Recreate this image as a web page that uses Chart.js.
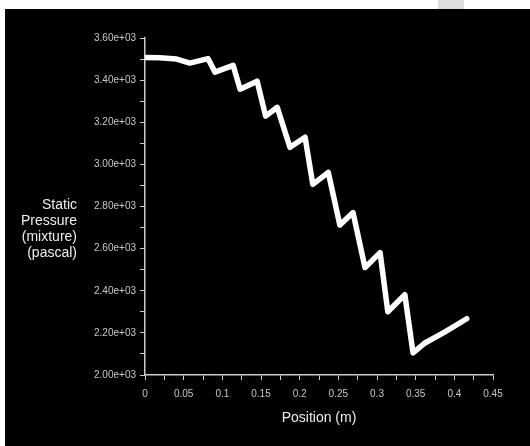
<!DOCTYPE html>
<html>
<head>
<meta charset="utf-8">
<script src="https://cdn.jsdelivr.net/npm/chart.js@4/dist/chart.umd.min.js"></script>
<style>
  html, body { margin: 0; padding: 0; background: #fff; }
  body { width: 530px; height: 446px; position: relative; overflow: hidden; }
  #frame { position: absolute; left: 5px; top: 9px; width: 525px; height: 437px; background: #000; }
  #tab { position: absolute; left: 438px; top: 0; width: 26px; height: 9px; background: #ddd; }
</style>
</head>
<body>
<div id="tab"></div>
<div id="frame"><canvas id="myChart" width="525" height="437"></canvas></div>
<script>
// 數據 (position in m, static pressure in pascal)
const positions = [0, 0.019, 0.041, 0.058, 0.0815, 0.0905, 0.114, 0.123, 0.145, 0.156,
  0.171, 0.1875, 0.207, 0.217, 0.237, 0.252, 0.269, 0.2845, 0.304, 0.314,
  0.336, 0.3466, 0.362, 0.388, 0.416];
const pressures = [3508, 3506, 3500, 3481, 3502, 3438, 3470, 3357, 3395, 3229,
  3271, 3081, 3129, 2905, 2962, 2712, 2771, 2510, 2581, 2300,
  2381, 2105, 2152, 2205, 2267];
const xTitle = "Position (m)";
const yTitleLines = ["Static", "Pressure", "(mixture)", "(pascal)"];

const points = positions.map((p, i) => ({ x: p, y: pressures[i] }));

// 自訂標題 (多行 Y 軸標題)
const titlePlugin = {
  id: "titles",
  afterDraw(chart) {
    const ctx = chart.ctx;
    ctx.save();
    ctx.fillStyle = "#eeeeee";
    ctx.font = "14px 'Liberation Sans', Arial, sans-serif";
    ctx.textAlign = "right";
    ctx.textBaseline = "middle";
    yTitleLines.forEach((t, i) => ctx.fillText(t, 72, 196 + i * 16));
    ctx.textAlign = "center";
    const a = chart.chartArea;
    ctx.fillText(xTitle, (a.left + a.right) / 2, 409);
    ctx.restore();
  },
};

const tickFont = { family: "'Liberation Sans Narrow', 'Liberation Sans', Arial, sans-serif", size: 10 };

new Chart(document.getElementById("myChart").getContext("2d"), {
  type: "line",
  plugins: [titlePlugin],
  data: {
    datasets: [{
      data: points,
      borderColor: "#ffffff",
      borderWidth: 5.5,
      borderCapStyle: "round",
      borderJoinStyle: "round",
      pointRadius: 0,
      tension: 0,
      fill: false,
    }],
  },
  options: {
    responsive: false,
    animation: false,
    layout: { padding: { top: 29, right: 37, left: 0, bottom: 0 } },
    plugins: { legend: { display: false }, tooltip: { enabled: false } },
    scales: {
      x: {
        type: "linear",
        min: 0,
        max: 0.45,
        afterFit: (s) => { s.height = 71; },
        border: { display: true, color: "#cccccc", width: 1.5 },
        grid: { drawOnChartArea: false, drawTicks: true, tickLength: 5, color: "#cccccc" },
        ticks: {
          stepSize: 0.025,
          color: "#c8c8c8",
          font: tickFont,
          padding: 8,
          maxRotation: 0,
          autoSkip: false,
          callback: (v) => (Math.round(v * 1000) % 50 === 0 ? String(+v.toFixed(3)) : ""),
        },
      },
      y: {
        min: 2000,
        max: 3600,
        afterFit: (s) => { s.width = 140; },
        border: { display: true, color: "#cccccc", width: 1.5 },
        grid: { drawOnChartArea: false, drawTicks: true, tickLength: 5, color: "#cccccc" },
        ticks: {
          stepSize: 100,
          color: "#c8c8c8",
          font: tickFont,
          padding: 4,
          autoSkip: false,
          callback: (v) => (Math.round(v) % 200 === 0 ? v.toExponential(2).replace("e+3", "e+03") : ""),
        },
      },
    },
  },
});
</script>
</body>
</html>
